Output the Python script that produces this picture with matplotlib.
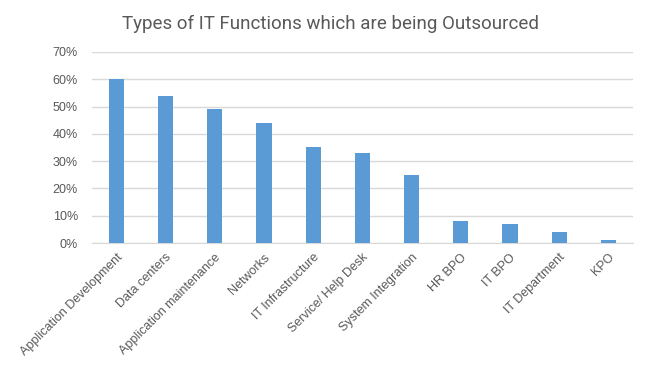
import matplotlib.pyplot as plt
import numpy as np

# categories and share of companies outsourcing each function (%)
categories = ['Application Development', 'Data centers', 'Application maintenance',
              'Networks', 'IT Infrastructure', 'Service/ Help Desk', 'System Integration',
              'HR BPO', 'IT BPO', 'IT Department', 'KPO']
values = [60, 54, 49, 44, 35, 33, 25, 8, 7, 4, 1]
yticks = [0, 10, 20, 30, 40, 50, 60, 70]

fig = plt.figure(figsize=(6.6, 3.71), dpi=100)
ax = fig.add_axes([0.139, 0.345, 0.82, 0.515])

x = np.arange(len(categories))
ax.bar(x, values, width=0.31, color='#5B9BD5', zorder=3)

ax.set_ylim(0, 70)
ax.set_xlim(-0.5, len(categories) - 0.5)
ax.set_yticks(yticks)
ax.set_yticklabels([f'{v}%' for v in yticks], fontsize=9, color='#595959',
                   family='Liberation Sans')
ax.set_xticks(x)
ax.set_xticklabels(categories, rotation=45, ha='right', rotation_mode='anchor',
                   fontsize=9, color='#595959', family='Liberation Sans')
ax.tick_params(axis='both', length=0)
ax.tick_params(axis='y', pad=10)
ax.tick_params(axis='x', pad=6)

ax.grid(axis='y', color='#D9D9D9', linewidth=1, zorder=0)
for s in ['top', 'right', 'left']:
    ax.spines[s].set_visible(False)
ax.spines['bottom'].set_color('#D9D9D9')

fig.text(0.5, 0.935, 'Types of IT Functions which are being Outsourced',
         ha='center', va='center', fontsize=13.5, color='#595959', family='Roboto')

fig.savefig('out.png', dpi=100, facecolor='white')
